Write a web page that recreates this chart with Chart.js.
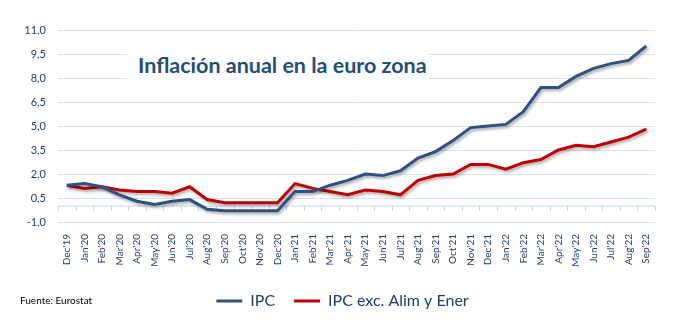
<!DOCTYPE html>
<html>
<head>
<meta charset="utf-8">
<script src="https://cdn.jsdelivr.net/npm/chart.js@4/dist/chart.umd.min.js"></script>
<style>
  html, body { margin: 0; padding: 0; background: #fff; }
  #wrap { position: relative; width: 685px; height: 321px; }
  #title {
    position: absolute; left: 127px; top: 43px; width: 302px; height: 44px;
    background: #fff; color: #1F4E79; font: bold 21.5px Lato, sans-serif;
    line-height: 44px; padding-left: 11px; box-sizing: border-box; white-space: nowrap;
  }
  #source {
    position: absolute; left: 20px; top: 294px; font: 10px Lato, sans-serif; color: #000;
  }
</style>
</head>
<body>
<div id="wrap">
  <canvas id="inflationChart" width="685" height="321"></canvas>
  <div id="title">Inflación anual en la euro zona</div>
  <div id="source">Fuente: Eurostat</div>
</div>
<script>
const months = [
  "Dec'19", "Jan'20", "Feb'20", "Mar'20", "Apr'20", "May'20", "Jun'20", "Jul'20",
  "Aug'20", "Sep'20", "Oct'20", "Nov'20", "Dec'20", "Jan'21", "Feb'21", "Mar'21",
  "Apr'21", "May'21", "Jun'21", "Jul'21", "Aug'21", "Sep'21", "Oct'21", "Nov'21",
  "Dec'21", "Jan'22", "Feb'22", "Mar'22", "Apr'22", "May'22", "Jun'22", "Jul'22",
  "Aug'22", "Sep'22"
];

const ipc = [
  1.3, 1.4, 1.2, 0.7, 0.3, 0.1, 0.3, 0.4,
  -0.2, -0.3, -0.3, -0.3, -0.3, 0.9, 0.9, 1.3,
  1.6, 2.0, 1.9, 2.2, 3.0, 3.4, 4.1, 4.9,
  5.0, 5.1, 5.9, 7.4, 7.4, 8.1, 8.6, 8.9,
  9.1, 10.0
];

const ipcCore = [
  1.3, 1.1, 1.2, 1.0, 0.9, 0.9, 0.8, 1.2,
  0.4, 0.2, 0.2, 0.2, 0.2, 1.4, 1.1, 0.9,
  0.7, 1.0, 0.9, 0.7, 1.6, 1.9, 2.0, 2.6,
  2.6, 2.3, 2.7, 2.9, 3.5, 3.8, 3.7, 4.0,
  4.3, 4.8
];

const seriesNames = ['IPC', 'IPC exc. Alim y Ener'];
const yMin = -1, yMax = 11, yStep = 1.5;

const textColor = '#1F3C6E';
const gridColor = '#D6E2F1';

// shadow under the lines, like the Excel original
const lineShadow = {
  id: 'lineShadow',
  beforeDatasetsDraw(chart) {
    const ctx = chart.ctx;
    ctx.save();
    ctx.shadowColor = 'rgba(0,0,0,0.35)';
    ctx.shadowBlur = 3;
    ctx.shadowOffsetX = 1.5;
    ctx.shadowOffsetY = 2;
  },
  afterDatasetsDraw(chart) {
    chart.ctx.restore();
  }
};

// horizontal axis crosses at zero, with tick marks between categories
const zeroAxis = {
  id: 'zeroAxis',
  beforeDatasetsDraw(chart) {
    const ctx = chart.ctx;
    const x = chart.scales.x;
    const y0 = chart.scales.y.getPixelForValue(0);
    const half = (x.getPixelForValue(1) - x.getPixelForValue(0)) / 2;
    ctx.save();
    ctx.strokeStyle = '#C5D5EA';
    ctx.lineWidth = 1;
    ctx.beginPath();
    ctx.moveTo(chart.chartArea.left, y0);
    ctx.lineTo(chart.chartArea.right, y0);
    for (let i = 0; i <= months.length; i++) {
      const px = Math.round(x.getPixelForValue(i) - half) + 0.5;
      ctx.moveTo(px, y0);
      ctx.lineTo(px, y0 + 5);
    }
    ctx.stroke();
    ctx.restore();
  }
};

const ctx = document.getElementById('inflationChart').getContext('2d');

const inflationChart = new Chart(ctx, {
  type: 'line',
  data: {
    labels: months,
    datasets: [
      {
        label: seriesNames[0],
        data: ipc,
        borderColor: '#30507F',
        backgroundColor: '#30507F',
        borderWidth: 3,
        pointRadius: 0,
        tension: 0
      },
      {
        label: seriesNames[1],
        data: ipcCore,
        borderColor: '#C00000',
        backgroundColor: '#C00000',
        borderWidth: 3,
        pointRadius: 0,
        tension: 0
      }
    ]
  },
  options: {
    responsive: false,
    animation: false,
    layout: { padding: { top: 30, right: 0, left: 0, bottom: 2 } },
    plugins: {
      tooltip: { enabled: false },
      legend: {
        position: 'bottom',
        labels: {
          color: textColor,
          font: { family: 'Lato', size: 16 },
          boxWidth: 26,
          boxHeight: 3,
          padding: 19,
          generateLabels(chart) {
            const items = Chart.defaults.plugins.legend.labels.generateLabels(chart);
            items.forEach(it => { it.lineWidth = 0; });
            return items;
          }
        }
      }
    },
    scales: {
      x: {
        offset: true,
        grid: { display: false },
        border: { display: false },
        ticks: {
          color: textColor,
          font: { family: 'Lato', size: 10 },
          minRotation: 90,
          maxRotation: 90,
          autoSkip: false,
          padding: 4
        },
        afterFit(scale) { scale.height = 52; }
      },
      y: {
        min: yMin,
        max: yMax,
        grid: { color: gridColor, drawTicks: false },
        border: { display: false },
        ticks: {
          stepSize: yStep,
          color: textColor,
          font: { family: 'Lato', size: 11 },
          padding: 12,
          callback: v => v.toFixed(1).replace('.', ',')
        },
        afterFit(scale) { scale.width = 58; }
      },
      // empty right-hand margin so the legend stays centred on the page
      spacer: {
        type: 'linear',
        position: 'right',
        grid: { display: false },
        border: { display: false },
        ticks: { display: false },
        afterFit(scale) { scale.width = 30; }
      }
    }
  },
  plugins: [zeroAxis, lineShadow]
});
</script>
</body>
</html>
